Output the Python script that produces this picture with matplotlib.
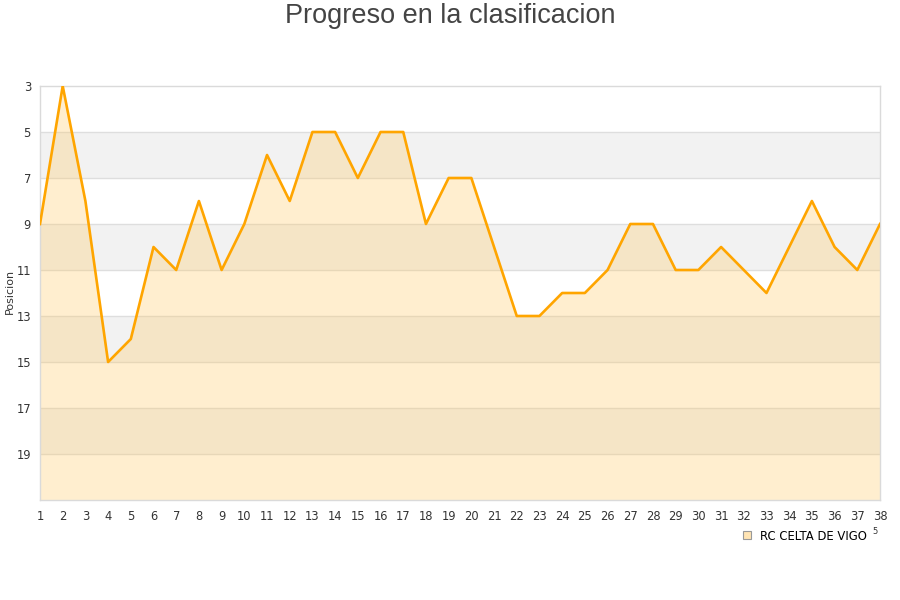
import matplotlib
matplotlib.use("Agg")
import matplotlib.pyplot as plt
from matplotlib.lines import Line2D

jornadas = list(range(1, 39))
posiciones = [9, 3, 8, 15, 14, 10, 11, 8, 11, 9, 6, 8, 5, 5, 7, 5, 5, 9, 7, 7,
              10, 13, 13, 12, 12, 11, 9, 9, 11, 11, 10, 11, 12, 10, 8, 10, 11, 9]
yticks = [3, 5, 7, 9, 11, 13, 15, 17, 19]
team = "RC CELTA DE VIGO"
title = "Progreso en la clasificacion"
ylabel = "Posicion"

fig = plt.figure(figsize=(9, 6), dpi=100)
ax = fig.add_axes([40/900, 1-500/600, 840/900, 414/600])

ax.set_xlim(1, 38)
ax.set_ylim(21, 3)

# alternating bands
for lo in [5, 9, 13, 17]:
    ax.axhspan(lo, lo + 2, color="#F2F2F2", zorder=0, lw=0)
for y in yticks[1:]:
    ax.axhline(y, color="#DEDEDE", lw=1, zorder=1)

ax.fill_between(jornadas, posiciones, 21, color="#FFC861", alpha=0.3, lw=0, zorder=2)
ax.plot(jornadas, posiciones, color="#FFA500", lw=1.9, zorder=3)

ax.set_xticks(jornadas)
ax.set_xticklabels([str(j) for j in jornadas])
ax.set_yticks(yticks)
ax.tick_params(axis="both", length=0, labelsize=8.3, colors="#333333")
ax.tick_params(axis="x", pad=7)
ax.tick_params(axis="y", pad=6.5)
for s in ax.spines.values():
    s.set_color("#DADADA")
    s.set_linewidth(1)

fig.text(10/900, 1-291/600, ylabel, rotation=90, fontsize=8, color="#333333",
         ha="center", va="center")

fig.text(0.5, 1-16/600, title, ha="center", va="center", fontsize=19.5,
         color="#444444", family="Liberation Sans")

handle = Line2D([], [], marker="s", linestyle="none", markersize=6,
                markerfacecolor="#FFE4B3", markeredgecolor="#999999", markeredgewidth=0.8)
leg = fig.legend([handle], [team], loc="center left",
                 bbox_to_anchor=(735/900, 1-536/600), frameon=False,
                 fontsize=8.4, handlelength=1.0, handletextpad=0.6, borderpad=0)
fig.text(875/900, 1-532/600, "5", fontsize=6, color="#333333", ha="center", va="center")

fig.savefig("out.png", dpi=100, facecolor="white")
